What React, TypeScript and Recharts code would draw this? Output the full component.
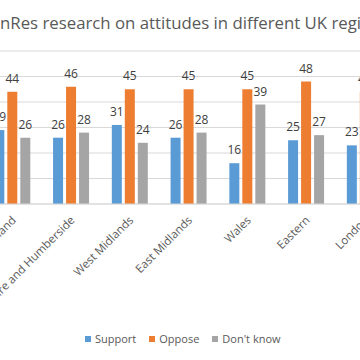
import { BarChart, Bar, XAxis, YAxis, CartesianGrid, Legend, LabelList } from "recharts";

// regions visible in the cropped reference (the rest of the chart falls outside the frame)
const regions = ["Scotland", "Yorkshire and Humberside", "West Midlands", "East Midlands", "Wales", "Eastern", "London"];
const support = [29, 26, 31, 26, 16, 25, 23];
const oppose = [44, 46, 45, 45, 45, 48, 44];
const dontKnow = [26, 28, 24, 28, 39, 27, 33];
const yTicks = [0, 10, 20, 30, 40, 50, 60];
const seriesOrder = ["Support", "Oppose", "Don't know"];

const data = regions.map((name, i) => ({
  name,
  support: support[i],
  oppose: oppose[i],
  dontKnow: dontKnow[i],
}));

const LABEL_COLOR = "#404040";
const AXIS_COLOR = "#595959";

const RegionTick = (props: any) => {
  const { x, y, payload } = props;
  return (
    <g transform={`translate(${x + 4},${y + 17})`}>
      <text transform="rotate(-45)" textAnchor="end" fontSize={11.5} fill={AXIS_COLOR}>
        {payload.value}
      </text>
    </g>
  );
};

const renderLegend = (props: any) => {
  const items = [...(props.payload || [])].sort(
    (a: any, b: any) => seriesOrder.indexOf(a.value) - seriesOrder.indexOf(b.value)
  );
  return (
    <div style={{ display: "flex", alignItems: "center", fontSize: 11, color: AXIS_COLOR, whiteSpace: "nowrap" }}>
      {items.map((entry: any) => (
        <span key={entry.value} style={{ display: "inline-flex", alignItems: "center", marginRight: 13 }}>
          <span style={{ width: 6, height: 6, background: entry.color, marginRight: 4, display: "inline-block" }} />
          <span>{entry.value}</span>
        </span>
      ))}
    </div>
  );
};

export default function App() {
  return (
    <div
      style={{
        position: "absolute",
        left: 0,
        top: 0,
        width: 360,
        height: 360,
        overflow: "hidden",
        background: "#fff",
        fontFamily: "'Open Sans', sans-serif",
      }}
    >
      <div style={{ position: "absolute", left: 0, top: 11, whiteSpace: "nowrap", fontSize: 16.8, color: AXIS_COLOR, lineHeight: "normal" }}>
        <span style={{ position: "absolute", right: "100%" }}>Com</span>
        nRes research on attitudes in different UK regions
      </div>
      <BarChart
        width={440}
        height={360}
        data={data}
        style={{ position: "absolute", left: -40, top: 0 }}
        margin={{ top: 51, right: 5.4, left: 23.3, bottom: 56 }}
        barSize={10}
        barGap={3}
      >
        <CartesianGrid vertical={false} stroke="#D9D9D9" />
        <XAxis
          dataKey="name"
          height={100}
          tickLine={false}
          tickSize={0}
          tickMargin={0}
          axisLine={{ stroke: "#D9D9D9" }}
          interval={0}
          tick={<RegionTick />}
        />
        <YAxis hide domain={[0, 60]} ticks={yTicks} />
        <Legend
          layout="horizontal"
          verticalAlign="middle"
          align="center"
          content={renderLegend}
          wrapperStyle={{ left: 125, top: 331, width: "auto" }}
        />
        <Bar dataKey="support" name="Support" fill="#5B9BD5" isAnimationActive={false}>
          <LabelList dataKey="support" position="top" offset={9} fontSize={12} fill={LABEL_COLOR} />
        </Bar>
        <Bar dataKey="oppose" name="Oppose" fill="#ED7D31" isAnimationActive={false}>
          <LabelList dataKey="oppose" position="top" offset={9} fontSize={12} fill={LABEL_COLOR} />
        </Bar>
        <Bar dataKey="dontKnow" name="Don't know" fill="#A5A5A5" isAnimationActive={false}>
          <LabelList dataKey="dontKnow" position="top" offset={9} fontSize={12} fill={LABEL_COLOR} />
        </Bar>
      </BarChart>
    </div>
  );
}
